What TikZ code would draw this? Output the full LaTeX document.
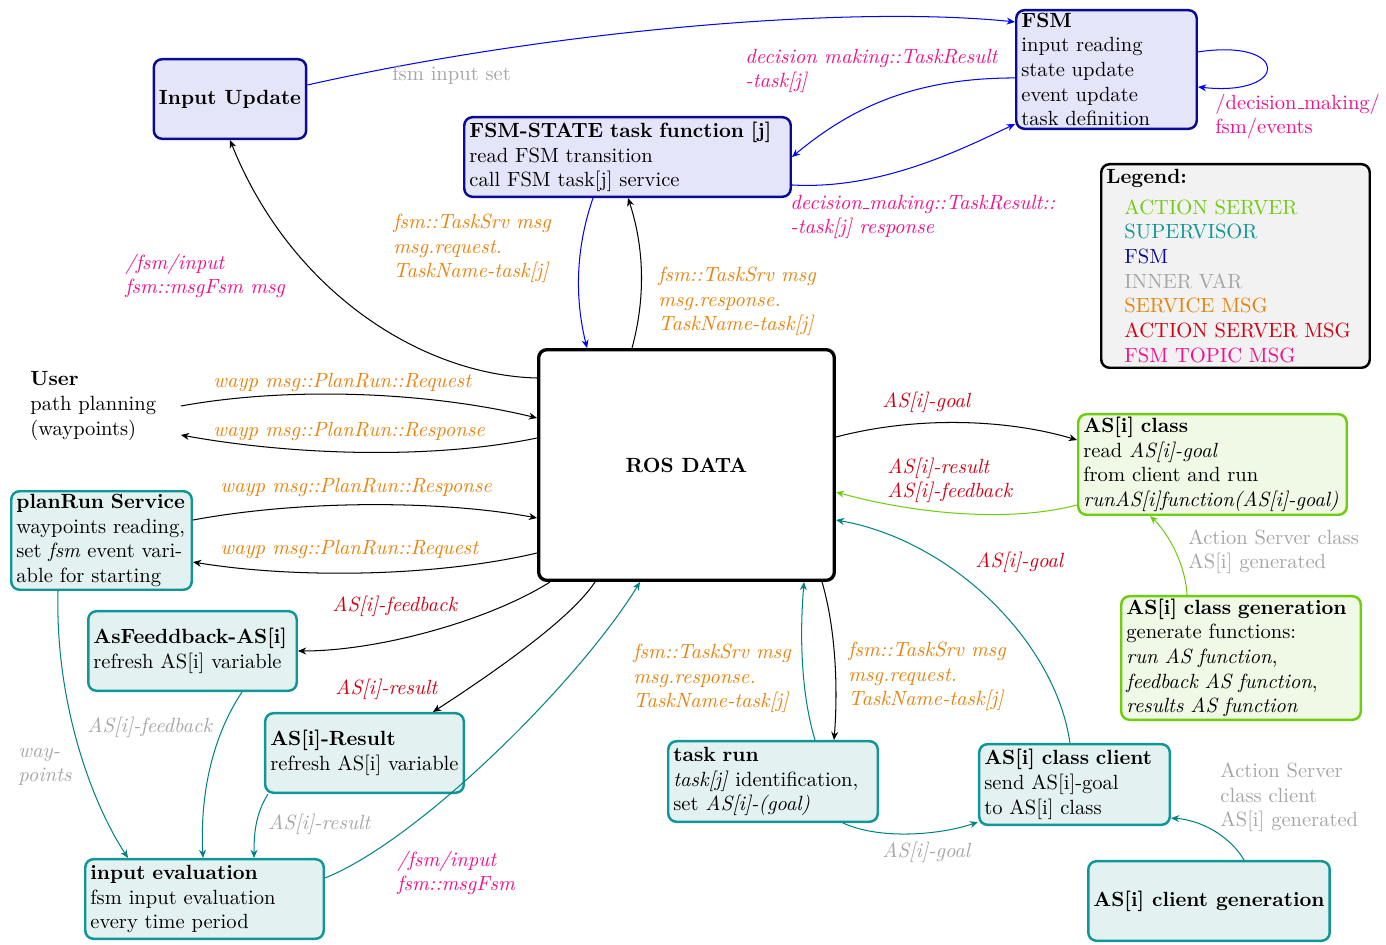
\documentclass[tikz,border=0pt]{standalone}
\usetikzlibrary{arrows.meta,calc}
\definecolor{fsmfill}{RGB}{229,229,250}
\definecolor{fsmdraw}{RGB}{10,10,150}
\definecolor{supfill}{RGB}{228,241,241}
\definecolor{supdraw}{RGB}{15,150,150}
\definecolor{asfill}{RGB}{240,248,230}
\definecolor{asdraw}{RGB}{110,205,15}
\definecolor{cteal}{RGB}{0,130,130}
\definecolor{cgray}{RGB}{165,165,165}
\definecolor{corange}{RGB}{232,130,10}
\definecolor{cred}{RGB}{210,0,20}
\definecolor{cpink}{RGB}{240,15,140}
\definecolor{legfill}{RGB}{242,242,242}
% narrow underscore rule
\newcommand{\ubar}{\leavevmode\kern.06em\vbox{\hrule width.3em}}
\begin{document}
\begin{tikzpicture}[x=0.4864pt,y=-0.4864pt,
  box/.style={rectangle, rounded corners=4pt, line width=1.2pt, inner xsep=2.5pt, inner ysep=1pt, align=left},
  fsmbox/.style={box, draw=fsmdraw, fill=fsmfill},
  supbox/.style={box, draw=supdraw, fill=supfill},
  asbox/.style={box, draw=asdraw, fill=asfill},
  arr/.style={-{Stealth[length=4pt,width=3.4pt]}, line width=0.5pt},
  lbl/.style={anchor=base west, inner sep=0pt, align=left}]
\useasboundingbox (0,0) rectangle (1386,945);

% ---------- nodes ----------
\node[fsmbox, minimum width=71.8pt, minimum height=38.7pt, align=center, font=\bfseries] (inp) at (230,99) {Input Update};
\node[fsmbox, text width=153.8pt, minimum height=38.7pt] (fst) at (627.5,157)
  {\textbf{FSM-STATE task function [j]}\\read FSM transition\\call FSM task[j] service};
\node[fsmbox, text width=82.8pt, minimum height=57.7pt, inner ysep=0.5pt] (fsm) at (1106.5,69.5)
  {\textbf{FSM}\\input reading\\state update\\event update\\task definition};
\node[box, draw=black, fill=legfill, text width=125.6pt, minimum height=99pt] (leg) at (1235.5,266)
  {\textbf{Legend:}\\[3pt]
   \hspace*{8.8pt}\textcolor{asdraw}{ACTION SERVER}\\
   \hspace*{8.8pt}\textcolor{supdraw}{SUPERVISOR}\\
   \hspace*{8.8pt}\textcolor{fsmdraw}{FSM}\\
   \hspace*{8.8pt}\textcolor{cgray}{INNER VAR}\\
   \hspace*{8.8pt}\textcolor{corange}{SERVICE MSG}\\
   \hspace*{8.8pt}\textcolor{cred}{ACTION SERVER MSG}\\
   \hspace*{8.8pt}\textcolor{cpink}{FSM TOPIC MSG}};
\node[box, draw=black, fill=white, line width=1.6pt, minimum width=143.8pt, minimum height=112.2pt, align=center, font=\bfseries] (ros) at (686.5,465) {ROS DATA};
\node[inner sep=0pt, text width=73pt, align=left, anchor=west] (user) at (30,406)
  {\textbf{User}\\path planning\\(waypoints)};
\node[supbox, text width=82.8pt, minimum height=47.9pt] (plan) at (101.5,540.5)
  {\textbf{planRun Service}\\waypoints reading,\\set \textit{fsm} event vari-\\able for starting};
\node[supbox, text width=96.4pt, minimum height=38.7pt] (fb) at (192.5,651)
  {\textbf{AsFeeddback-AS[i]}\\refresh AS[i] variable};
\node[supbox, text width=91.6pt, minimum height=38.7pt] (res) at (364.5,753)
  {\textbf{AS[i]-Result}\\refresh AS[i] variable};
\node[supbox, text width=111pt, minimum height=38.7pt] (ie) at (204.5,899)
  {\textbf{input evaluation}\\fsm input evaluation\\every time period};
\node[supbox, text width=96.9pt, minimum height=39.2pt] (tr) at (773,781.5)
  {\textbf{task run}\\\textit{task[j]} identification,\\set \textit{AS[i]-(goal)}};
\node[supbox, text width=87.7pt, minimum height=39.2pt] (cc) at (1074.5,784.5)
  {\textbf{AS[i] class client}\\send AS[i]-goal\\to AS[i] class};
\node[supbox, minimum width=116.5pt, minimum height=38.7pt, align=center, font=\bfseries] (cg) at (1209,901) {AS[i] client generation};
\node[asbox, text width=125.6pt, minimum height=48.9pt] (asc) at (1212.5,464.5)
  {\textbf{AS[i] class}\\read \textit{AS[i]-goal}\\from client and run\\\textit{runAS[i]function(AS[i]-goal)}};
\node[asbox, text width=111.5pt, minimum height=60.1pt] (ascg) at (1241,658)
  {\textbf{AS[i] class generation}\\generate functions:\\\textit{run AS function},\\\textit{feedback AS function},\\\textit{results AS function}};

% ---------- FSM links ----------
\draw[arr, blue] ($(inp.north east)+(0,27)$) .. controls +(245,-55) and +(-165,-17) .. ($(fsm.north west)+(0,13)$);
\draw[arr, blue] ($(fsm.north west)+(0,69)$) .. controls +(-100,0) and +(60,-50) .. (fst.east);
\draw[arr, blue] ($(fst.north east)+(0,69)$) .. controls +(88,5) and +(-55,26) .. ($(fsm.south west)+(0,-6)$);
\draw[arr, blue] ($(fsm.north east)+(0,43)$) .. controls +(92,-14) and +(92,10) .. ($(fsm.north east)+(0,78)$);
\draw[arr, blue] ($(fst.south west)+(130,0)$) .. controls +(-18,52) and +(-12,-48) .. ($(ros.north west)+(50,0)$);
\draw[arr] ($(ros.north west)+(95,0)$) .. controls +(13,-48) and +(17,52) .. ($(fst.south west)+(165,0)$);
\draw[arr] ($(ros.north west)+(0,30)$) .. controls +(-117,-3) and +(60,150) .. (inp.south);

% ---------- left side ----------
\draw[arr] (user.east) .. controls +(110,-20) and +(-107,-26) .. ($(ros.north west)+(0,70)$);
\draw[arr] ($(ros.north west)+(0,90)$) .. controls +(-107,22) and +(110,20) .. ($(user.east)+(0,29)$);
\draw[arr] ($(plan.north east)+(0,30)$) .. controls +(107,-20) and +(-97,-18) .. ($(ros.north west)+(0,170)$);
\draw[arr] ($(ros.north west)+(0,205)$) .. controls +(-107,25) and +(97,16) .. ($(plan.north east)+(0,72)$);
\draw[arr] ($(ros.south west)+(13,0)$) .. controls +(-60,38) and +(82,0) .. (fb.east);
\draw[arr] ($(ros.south west)+(58,0)$) .. controls +(-25,38) and +(57,-37) .. ($(res.north west)+(169,0)$);
\draw[arr, cteal] ($(ie.north east)+(0,20)$) .. controls +(95,-38) and +(-60,98) .. ($(ros.south west)+(103,0)$);
\draw[arr, cteal] ($(plan.south west)+(48,0)$) .. controls +(-3,109) and +(-38,-58) .. ($(ie.north west)+(44,0)$);
\draw[arr, cteal] ($(fb.south west)+(155,0)$) .. controls +(-32,48) and +(-3,-58) .. ($(ie.north west)+(119,0)$);
\draw[arr, cteal] ($(res.south west)+(4,0)$) .. controls +(-13,21) and +(0,-23) .. ($(ie.north west)+(170,0)$);

% ---------- bottom and right side ----------
\draw[arr, cteal] ($(tr.north west)+(148,0)$) .. controls +(-15,-50) and +(-4,48) .. ($(ros.south west)+(267,0)$);
\draw[arr] ($(ros.south west)+(285,0)$) .. controls +(14,48) and +(4,-50) .. ($(tr.north west)+(167,0)$);
\draw[arr, cteal] ($(tr.south west)+(176,0)$) .. controls +(37,17) and +(-38,13) .. ($(cc.south west)+(0,-4)$);
\draw[arr, cteal] ($(cc.north west)+(92,0)$) .. controls +(-15,-103) and +(114,20) .. ($(ros.north east)+(0,172)$);
\draw[arr] ($(ros.north east)+(0,89)$) .. controls +(84,-22) and +(-67,-20) .. ($(asc.north west)+(0,27)$);
\draw[arr, asdraw] ($(asc.south west)+(0,-11)$) .. controls +(-77,20) and +(64,18) .. ($(ros.north east)+(0,144)$);
\draw[arr, asdraw] ($(ascg.north west)+(67,0)$) .. controls +(-2,-35) and +(15,14) .. ($(asc.south west)+(73,0)$);
\draw[arr, cteal] ($(cg.north west)+(157,0)$) .. controls +(-15,-25) and +(29,2) .. ($(cc.south east)+(0,-8)$);

% ---------- labels (base = baseline of the last line) ----------
\node[lbl, text=cgray] (l1) at (392,81) {fsm input set};
\node[lbl, text=cpink, font=\itshape] (l2) at (745,88) {decision making::TaskResult\\-task[j]};
\node[lbl, text=cpink, font=\itshape] (l3) at (790,234) {decision\ubar making::TaskResult::\\-task[j] response};
\node[lbl, text=cpink] (l4) at (1215,134) {/decision\ubar making/\\fsm/events};
\node[lbl, text=corange, font=\itshape] (l5) at (393,278) {fsm::TaskSrv msg\\msg.request.\\TaskName-task[j]};
\node[lbl, text=corange, font=\itshape] (l6) at (658,331) {fsm::TaskSrv msg\\msg.response.\\TaskName-task[j]};
\node[lbl, text=cpink, font=\itshape] (l7) at (125,294) {/fsm/input\\fsm::msgFsm msg};
\node[lbl, text=corange, font=\itshape] (l8) at (213,388) {wayp msg::PlanRun::Request};
\node[lbl, text=corange, font=\itshape] (l9) at (213,437) {wayp msg::PlanRun::Response};
\node[lbl, text=corange, font=\itshape] (l10) at (220,493) {wayp msg::PlanRun::Response};
\node[lbl, text=corange, font=\itshape] (l11) at (220,555) {wayp msg::PlanRun::Request};
\node[lbl, text=cred, font=\itshape] (l12) at (332,612) {AS[i]-feedback};
\node[lbl, text=cred, font=\itshape] (l13) at (335,695) {AS[i]-result};
\node[lbl, text=cpink, font=\itshape] (l14) at (397,891) {/fsm/input\\fsm::msgFsm};
\node[lbl, text=corange, font=\itshape] (l15) at (633,708) {fsm::TaskSrv msg\\msg.response.\\TaskName-task[j]};
\node[lbl, text=corange, font=\itshape] (l16) at (848,706) {fsm::TaskSrv msg\\msg.request.\\TaskName-task[j]};
\node[lbl, text=cgray, font=\itshape] (l17) at (882,858) {AS[i]-goal};
\node[lbl, text=cred, font=\itshape] (l18) at (975,568) {AS[i]-goal};
\node[lbl, text=cred, font=\itshape] (l19) at (882,408) {AS[i]-goal};
\node[lbl, text=cred, font=\itshape] (l20) at (887,498) {AS[i]-result\\AS[i]-feedback};
\node[lbl, text=cgray] (l21) at (1188,569) {Action Server class\\AS[i] generated};
\node[lbl, text=cgray] (l22) at (1220,827) {Action Server\\class client\\AS[i] generated};
\node[lbl, text=cgray, font=\itshape] (l23) at (18,782) {way-\\points};
\node[lbl, text=cgray, font=\itshape] (l24) at (87,733) {AS[i]-feedback};
\node[lbl, text=cgray, font=\itshape] (l25) at (268,830) {AS[i]-result};
\end{tikzpicture}
\end{document}
